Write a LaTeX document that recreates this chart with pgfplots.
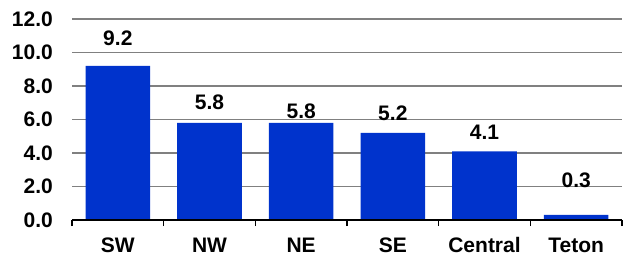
\documentclass[border=0pt]{standalone}
\usepackage{fontspec}
\setmainfont{Liberation Sans}
\usepackage{pgfplots}
\pgfplotsset{compat=1.18}
\definecolor{barblue}{RGB}{0,51,204}
\definecolor{gridgray}{RGB}{128,128,128}
\begin{document}
\begin{tikzpicture}
\begin{axis}[
  scale only axis,
  width=550pt, height=201pt,
  xmin=-0.5, xmax=5.5, ymin=0, ymax=12,
  axis lines*=left,
  axis line style={-},
  y axis line style={draw=none},
  x axis line style={black, line width=1.3pt},
  ytick={0,2,...,12},
  major tick length=0pt,
  yticklabel style={inner sep=0pt, xshift=-19pt, font=\fontsize{21}{25}\selectfont\bfseries},
  /pgf/number format/.cd, fixed, fixed zerofill, precision=1, assume math mode=true,
  /pgfplots/.cd,
  ymajorgrids,
  grid style={gridgray, line width=1.5pt},
  xtick={0,...,5},
  xticklabels={SW,NW,NE,SE,Central,Teton},
  minor xtick={-0.5,0.5,1.5,2.5,3.5,4.5,5.5},
  minor tick length=6pt,
  tick align=outside,
  minor x tick style={draw=black, line width=1.3pt},
  xticklabel style={anchor=base, inner sep=0pt, yshift=-32pt, font=\fontsize{21}{25}\selectfont\bfseries},
  clip=false,
]
\addplot[ybar, bar width=0.705, fill=barblue, draw=none] coordinates {
  (0,9.2) (1,5.8) (2,5.8) (3,5.2) (4,4.1) (5,0.3)
};
\addplot[only marks, mark=none, point meta=explicit symbolic,
  nodes near coords,
  every node near coord/.append style={anchor=center, inner sep=0pt, font=\fontsize{21}{25}\selectfont\bfseries}]
  coordinates {
  (0,10.85) [9.2]
  (1,7.01) [5.8]
  (2,6.50) [5.8]
  (3,6.37) [5.2]
  (4,5.22) [4.1]
  (5,2.39) [0.3]
};
\draw[black, line width=1.3pt] (axis cs:-0.5,0) -- (axis cs:5.5,0);
\end{axis}
\pgfresetboundingbox
\useasboundingbox ([xshift=-72pt,yshift=-36pt]current axis.south west) rectangle ([xshift=2pt,yshift=19pt]current axis.north east);
\end{tikzpicture}
\end{document}
